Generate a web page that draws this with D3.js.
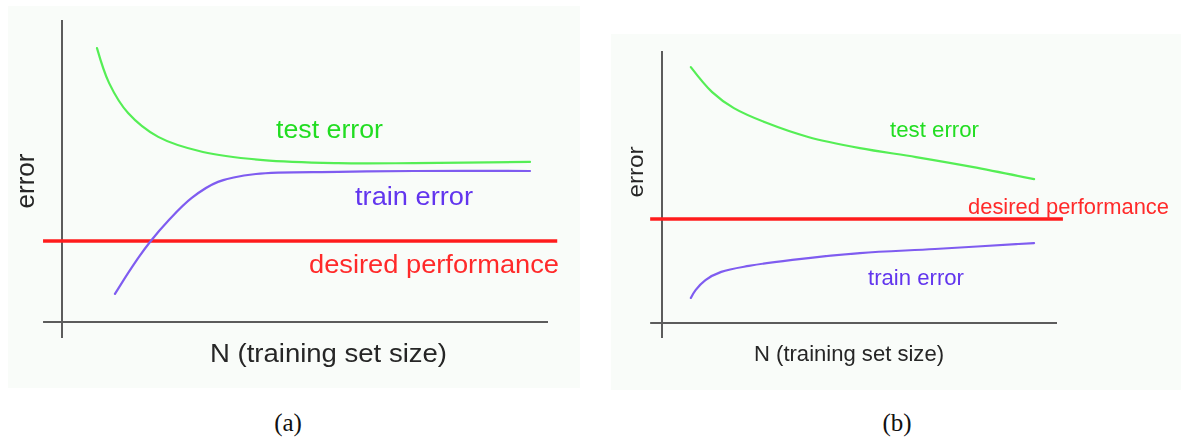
<!DOCTYPE html>
<html>
<head>
<meta charset="utf-8">
<script src="https://cdn.jsdelivr.net/npm/d3@7"></script>
<style>
  html, body { margin: 0; padding: 0; background: #ffffff; }
  svg { display: block; }
</style>
</head>
<body>
<svg id="chart" width="1181" height="439"></svg>
<script>
// Learning curves: error against training set size.
// (a) large gap between test and train error, (b) both errors above target.

const panelCaptions = ["(a)", "(b)"];
const xTitle = "N (training set size)";
const yTitle = "error";
const seriesLabels = ["test error", "train error", "desired performance"];

// Panel (a) — N and error on a 0..100 scale
const testA_N   = [7.2, 9.7, 13.6, 19.8, 29.0, 41.4, 56.8, 72.4, 96.3];
const testA_err = [90.7, 79.1, 69.2, 61.3, 56.3, 53.6, 52.6, 52.6, 53.0];
const trainA_N   = [10.9, 14.4, 18.1, 22.0, 26.7, 32.1, 39.9, 56.8, 72.4, 96.3];
const trainA_err = [9.3, 18.2, 26.5, 33.8, 41.1, 46.4, 49.0, 49.7, 50.0, 50.0];
const desiredA = 26.8;

// Panel (b)
const testB_N   = [7.3, 12.7, 18.2, 26.6, 37.0, 50.1, 64.3, 78.5, 94.2];
const testB_err = [94.1, 84.9, 79.0, 73.5, 68.4, 64.3, 61.0, 57.4, 52.9];
const trainB_N   = [7.3, 8.5, 11.0, 15.0, 22.0, 33.0, 50.1, 69.1, 94.2];
const trainB_err = [9.2, 12.1, 15.8, 18.8, 21.0, 23.2, 25.7, 27.2, 29.4];
const desiredB = 38.2;

const zip = (xs, ys) => xs.map((x, i) => ({ n: x, e: ys[i] }));

// Drawing layout for each panel (pixels)
const panels = [
  {
    caption: panelCaptions[0],
    test: zip(testA_N, testA_err), train: zip(trainA_N, trainA_err), desired: desiredA,
    bg: [8, 6, 580, 388],
    xRange: [62, 548], yRange: [322, 20],
    xAxisFrom: -3.9, yAxisBottom: -5.3, yAxisTop: 100, desiredTo: 101.9,
    font: 26,
    testLabel:    { x: 276, y: 138, w: 107 },
    trainLabel:   { x: 355, y: 205, w: 118 },
    desiredLabel: { x: 309, y: 273, w: 250 },
    yTitle: { x: 34, y: 181, w: 55 },
    xTitle: { x: 210, y: 362, w: 237 },
    captionX: 288
  },
  {
    caption: panelCaptions[1],
    test: zip(testB_N, testB_err), train: zip(trainB_N, trainB_err), desired: desiredB,
    bg: [611, 34, 1181, 390],
    xRange: [662, 1057], yRange: [323, 51],
    xAxisFrom: -3.0, yAxisBottom: -5.5, yAxisTop: 100, desiredTo: 101.5,
    font: 22,
    testLabel:    { x: 890, y: 137, w: 89 },
    trainLabel:   { x: 868, y: 285, w: 96 },
    desiredLabel: { x: 968, y: 214, w: 201 },
    yTitle: { x: 643, y: 172, w: 51 },
    xTitle: { x: 754, y: 361, w: 190 },
    captionX: 897
  }
];

const colors = {
  bg: "#f9fcf9",
  axis: "#5c5c5c",
  testLine: "#55ee55",
  testText: "#22dd22",
  trainLine: "#7f5cf0",
  trainText: "#6236ee",
  desired: "#ff1e1e",
  desiredText: "#ff2a2a",
  title: "#262626"
};

const svg = d3.select("#chart");

const defs = svg.append("defs");
defs.append("filter").attr("id", "soft")
  .attr("x", "-5%").attr("y", "-5%").attr("width", "110%").attr("height", "110%")
  .append("feGaussianBlur").attr("stdDeviation", 0.45);

panels.forEach(p => {
  const x = d3.scaleLinear().domain([0, 100]).range(p.xRange);
  const y = d3.scaleLinear().domain([0, 100]).range(p.yRange);

  const g = svg.append("g").attr("filter", "url(#soft)");

  g.append("rect")
    .attr("x", p.bg[0]).attr("y", p.bg[1])
    .attr("width", p.bg[2] - p.bg[0]).attr("height", p.bg[3] - p.bg[1])
    .attr("fill", colors.bg);

  // axes as plain lines through the origin
  g.append("line")
    .attr("x1", x(0)).attr("x2", x(0))
    .attr("y1", y(p.yAxisTop)).attr("y2", y(p.yAxisBottom))
    .attr("stroke", colors.axis).attr("stroke-width", 2);
  g.append("line")
    .attr("x1", x(p.xAxisFrom)).attr("x2", x(100))
    .attr("y1", y(0)).attr("y2", y(0))
    .attr("stroke", colors.axis).attr("stroke-width", 2);

  // target error level
  g.append("line")
    .attr("x1", x(p.xAxisFrom)).attr("x2", x(p.desiredTo))
    .attr("y1", y(p.desired)).attr("y2", y(p.desired))
    .attr("stroke", colors.desired).attr("stroke-width", 3.5);

  const line = d3.line().x(d => x(d.n)).y(d => y(d.e)).curve(d3.curveCatmullRom.alpha(0.5));

  g.append("path").datum(p.test)
    .attr("d", line).attr("fill", "none")
    .attr("stroke", colors.testLine).attr("stroke-width", 2.2).attr("stroke-linecap", "round");
  g.append("path").datum(p.train)
    .attr("d", line).attr("fill", "none")
    .attr("stroke", colors.trainLine).attr("stroke-width", 2.2).attr("stroke-linecap", "round");

  const txt = (lab, str, fill) => g.append("text")
    .attr("x", lab.x).attr("y", lab.y)
    .attr("textLength", lab.w).attr("lengthAdjust", "spacingAndGlyphs")
    .attr("font-family", "'Liberation Sans', Arial, sans-serif")
    .attr("font-size", p.font).attr("fill", fill)
    .text(str);

  txt(p.testLabel, seriesLabels[0], colors.testText);
  txt(p.trainLabel, seriesLabels[1], colors.trainText);
  txt(p.desiredLabel, seriesLabels[2], colors.desiredText);
  txt(p.xTitle, xTitle, colors.title);

  g.append("text")
    .attr("transform", `translate(${p.yTitle.x},${p.yTitle.y}) rotate(-90)`)
    .attr("text-anchor", "middle")
    .attr("textLength", p.yTitle.w).attr("lengthAdjust", "spacingAndGlyphs")
    .attr("font-family", "'Liberation Sans', Arial, sans-serif")
    .attr("font-size", p.font).attr("fill", colors.title)
    .text(yTitle);

  svg.append("text")
    .attr("x", p.captionX).attr("y", 431)
    .attr("text-anchor", "middle")
    .attr("font-family", "'Liberation Serif', 'DejaVu Serif', serif")
    .attr("font-size", 25).attr("fill", "#111")
    .text(p.caption);
});
</script>
</body>
</html>
